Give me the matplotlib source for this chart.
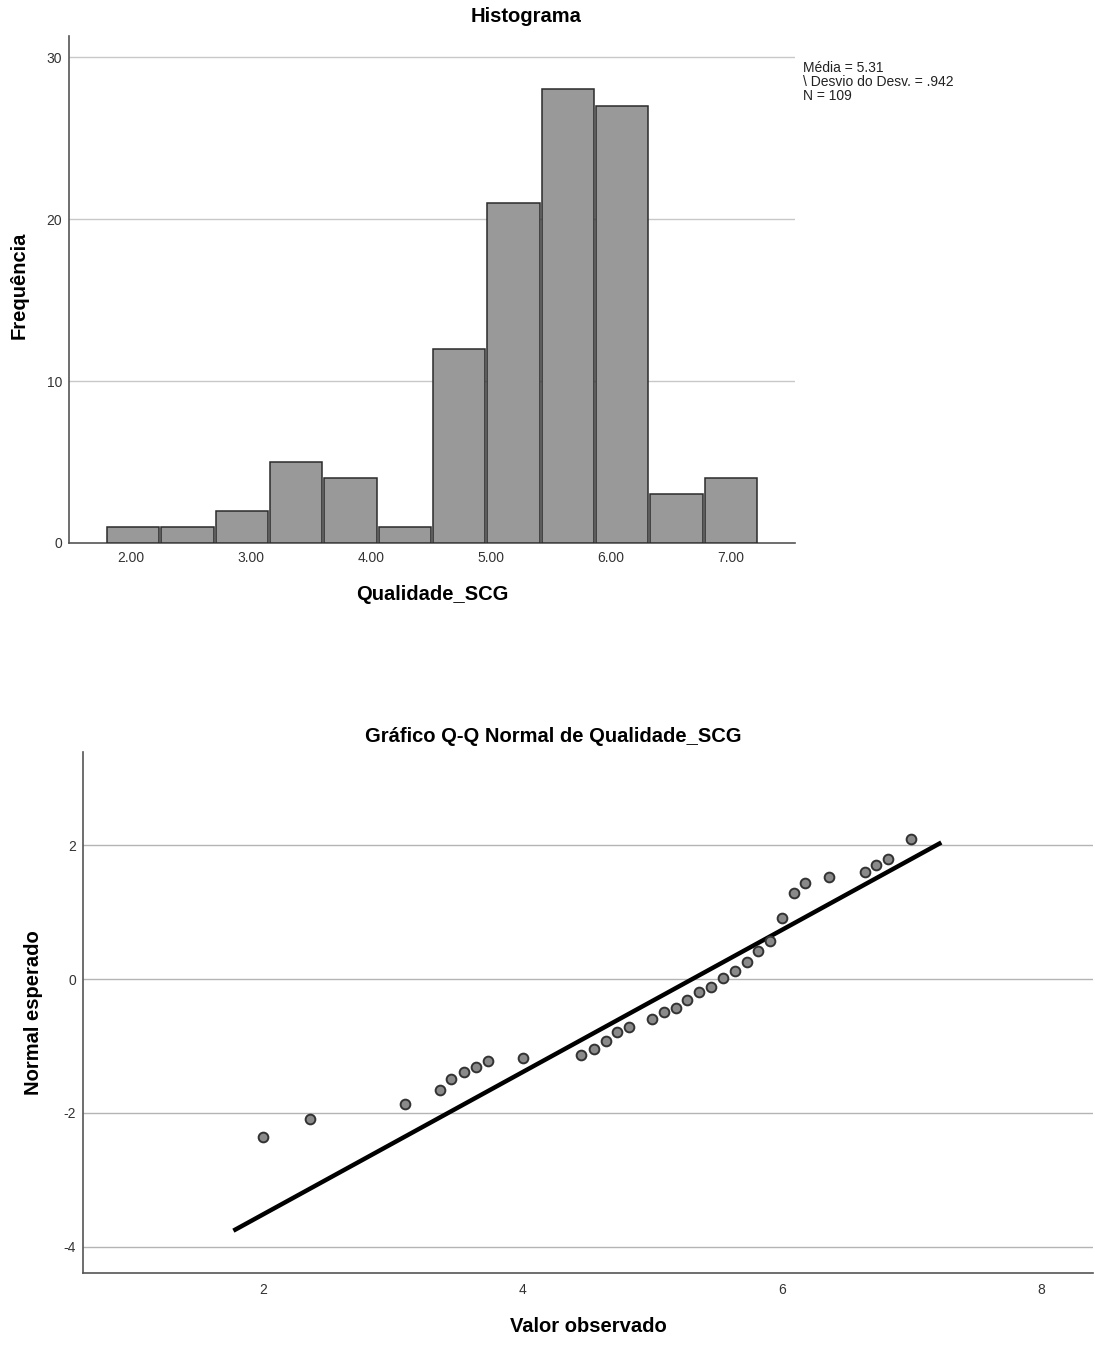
import matplotlib
matplotlib.use("Agg")
import matplotlib.pyplot as plt
import numpy as np

plt.rcParams['font.family'] = ['Liberation Sans', 'DejaVu Sans']

# ---- Histogram data ----
bin_edges = [1.79, 2.243, 2.697, 3.15, 3.603, 4.057, 4.51, 4.963, 5.417, 5.87, 6.323, 6.777, 7.23]
counts = [1, 1, 2, 5, 4, 1, 12, 21, 28, 27, 3, 4]
hist_xticks = [2.0, 3.0, 4.0, 5.0, 6.0, 7.0]
hist_xticklabels = ["2.00", "3.00", "4.00", "5.00", "6.00", "7.00"]
hist_yticks = [0, 10, 20, 30]
stats_lines = ["Média = 5.31", "\\ Desvio do Desv. = .942", "N = 109"]
mean_val = 5.31
sd_val = 0.942

# ---- Q-Q data ----
observed = [2.00, 2.36, 3.09, 3.36, 3.45, 3.55, 3.64, 3.73, 4.00, 4.45, 4.55, 4.64,
            4.73, 4.82, 5.00, 5.09, 5.18, 5.27, 5.36, 5.45, 5.55, 5.64, 5.73, 5.82,
            5.91, 6.00, 6.09, 6.18, 6.36, 6.64, 6.73, 6.82, 7.00]
expected = [-2.36, -2.09, -1.86, -1.65, -1.49, -1.39, -1.31, -1.23, -1.18, -1.14, -1.05, -0.93,
            -0.79, -0.72, -0.60, -0.49, -0.44, -0.31, -0.20, -0.12, 0.01, 0.12, 0.25, 0.42,
            0.57, 0.91, 1.28, 1.43, 1.52, 1.60, 1.70, 1.79, 2.09]
line_x = [1.77, 7.23]
qq_xticks = [2, 4, 6, 8]
qq_yticks = [-4, -2, 0, 2]

W, H = 1095, 1350
fig = plt.figure(figsize=(W / 100, H / 100), dpi=100)

def fx(px):
    return px / W

def fy(py):
    return 1 - py / H

TICK_FS = 10
LABEL_FS = 14.5
TITLE_FS = 14.5

# ---------- Histogram ----------
ax1 = fig.add_axes([fx(69), fy(543), fx(795 - 69), fy(36) - fy(543)])
edges = np.array(bin_edges)
widths = np.diff(edges)
ax1.bar(edges[:-1] + widths * 0.02, counts, width=widths * 0.96, align='edge',
        color='#999999', edgecolor='#2b2b2b', linewidth=1.1, zorder=3)
ax1.set_xlim(1.48, 7.54)
ax1.set_ylim(0, 31.3)
for yv in hist_yticks[1:]:
    ax1.axhline(yv, color='#c8c8c8', linewidth=1.0, zorder=1)
ax1.set_xticks(hist_xticks)
ax1.set_xticklabels(hist_xticklabels, fontsize=TICK_FS, color='#333333')
ax1.set_yticks(hist_yticks)
ax1.set_yticklabels([str(v) for v in hist_yticks], fontsize=TICK_FS, color='#333333')
ax1.tick_params(axis='x', length=0, pad=6)
ax1.tick_params(axis='y', length=0, pad=5)
for s in ['top', 'right']:
    ax1.spines[s].set_visible(False)
for s in ['left', 'bottom']:
    ax1.spines[s].set_color('#555555')
    ax1.spines[s].set_linewidth(1.2)
fig.text(fx(526), fy(16), "Histograma", fontsize=TITLE_FS, fontweight='bold',
         ha='center', va='center')
fig.text(fx(432), fy(595), "Qualidade_SCG", fontsize=LABEL_FS, fontweight='bold',
         ha='center', va='center')
fig.text(fx(19), fy(285), "Frequência", fontsize=LABEL_FS, fontweight='bold',
         ha='center', va='center', rotation=90)
fig.text(fx(803), fy(61), "\n".join(stats_lines), fontsize=10, va='top', ha='left',
         linespacing=0.98, color='#222222')

# ---------- Q-Q plot ----------
ax2 = fig.add_axes([fx(83), fy(1273), fx(1093 - 83), fy(752) - fy(1273)])
ax2.set_xlim(0.61, 8.4)
ax2.set_ylim(-4.39, 3.39)
for yv in qq_yticks:
    ax2.axhline(yv, color='#b4b4b4', linewidth=1.0, zorder=1)
lx = np.array(line_x)
ax2.plot(lx, (lx - mean_val) / sd_val, color='black', linewidth=3.2, zorder=3,
         solid_capstyle='butt')
ax2.plot(observed, expected, linestyle='none', marker='o', markersize=7,
         markerfacecolor='#8a8a8a', markeredgecolor='#333333', markeredgewidth=1.4, zorder=4)
ax2.set_xticks(qq_xticks)
ax2.set_xticklabels([str(v) for v in qq_xticks], fontsize=TICK_FS, color='#333333')
ax2.set_yticks(qq_yticks)
ax2.set_yticklabels([str(v) for v in qq_yticks], fontsize=TICK_FS, color='#333333')
ax2.tick_params(axis='x', length=0, pad=7)
ax2.tick_params(axis='y', length=0, pad=5)
for s in ['top', 'right']:
    ax2.spines[s].set_visible(False)
for s in ['left', 'bottom']:
    ax2.spines[s].set_color('#555555')
    ax2.spines[s].set_linewidth(1.2)
fig.text(fx(553), fy(737), "Gráfico Q-Q Normal de Qualidade_SCG", fontsize=TITLE_FS,
         fontweight='bold', ha='center', va='center')
fig.text(fx(588), fy(1327), "Valor observado", fontsize=LABEL_FS, fontweight='bold',
         ha='center', va='center')
fig.text(fx(34), fy(1013), "Normal esperado", fontsize=LABEL_FS, fontweight='bold',
         ha='center', va='center', rotation=90)

fig.savefig("out.png", dpi=100, facecolor='white')
